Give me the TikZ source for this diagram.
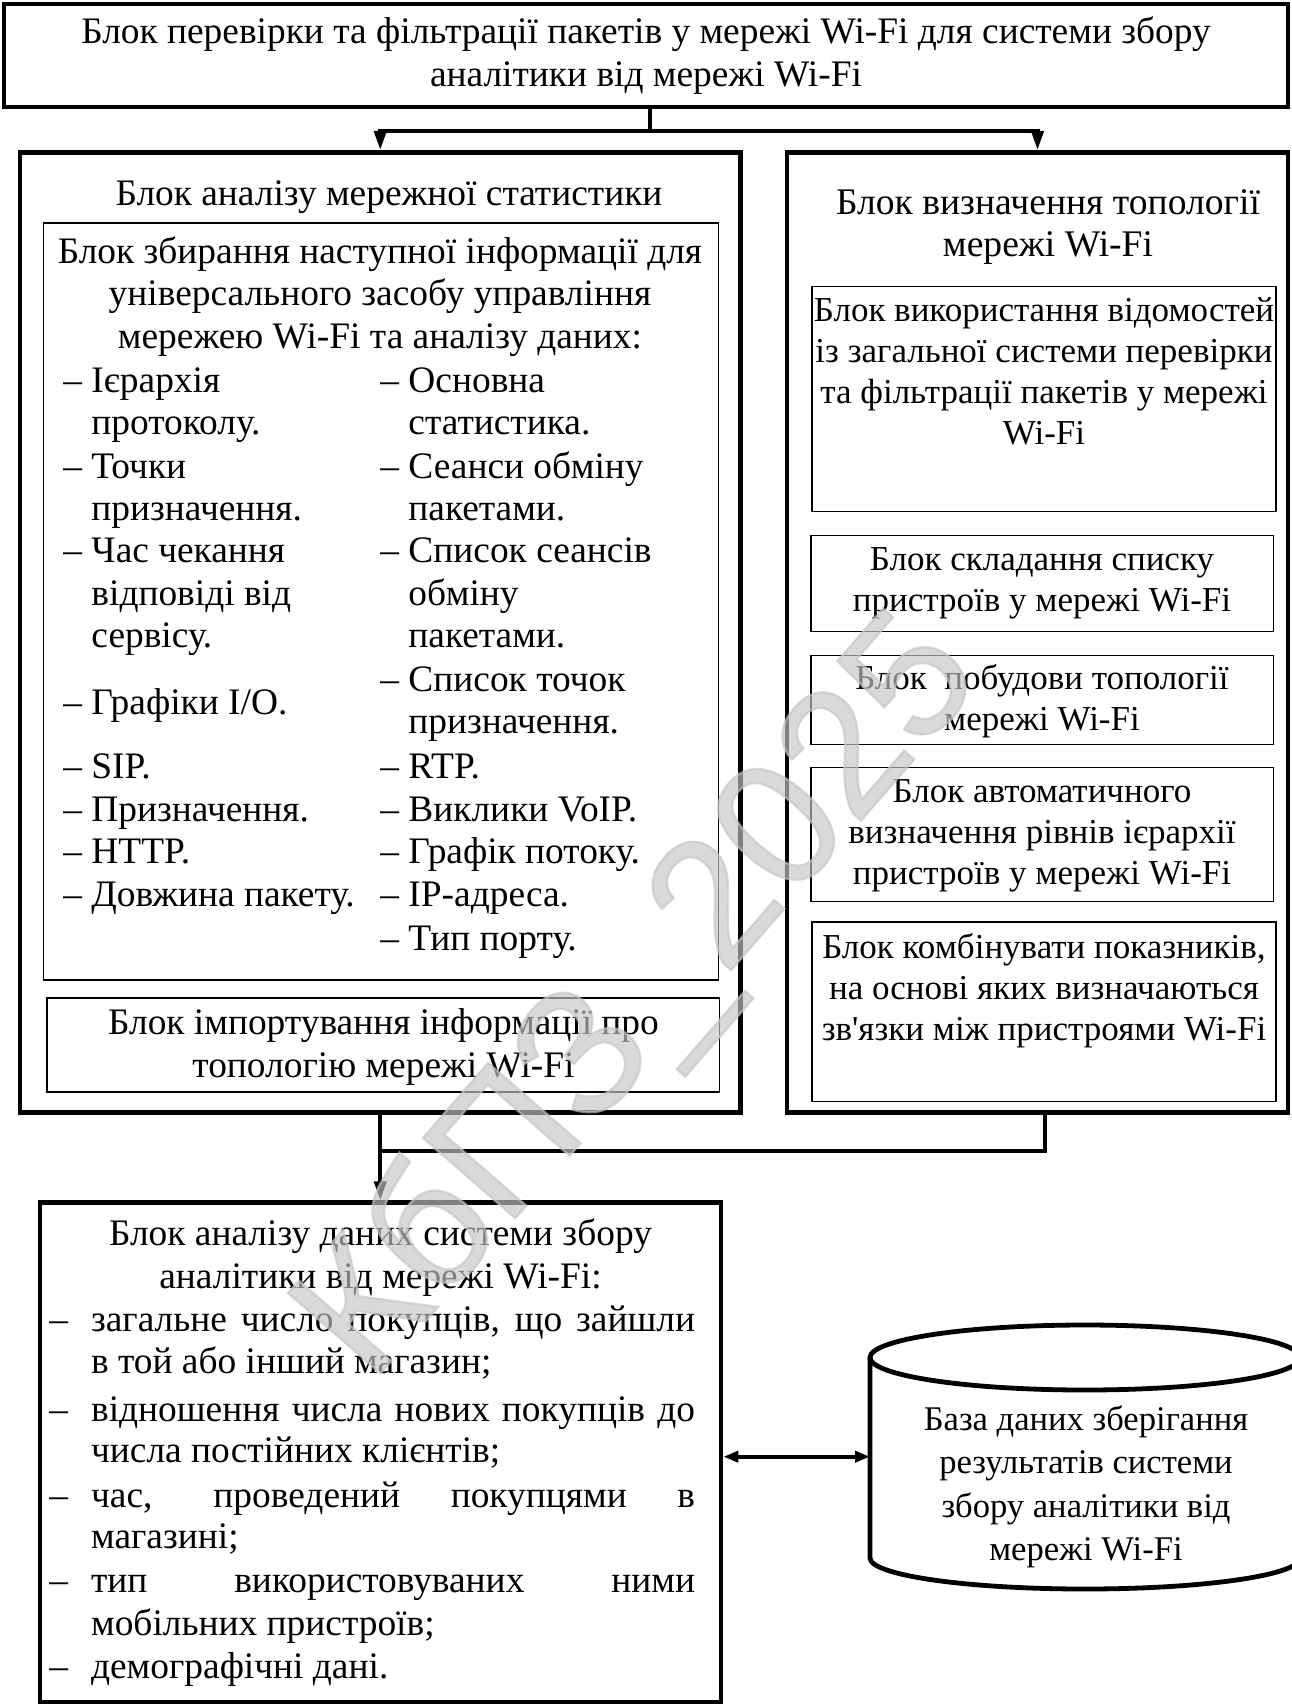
\documentclass[tikz,border=0pt]{standalone}
\usepackage{fontspec}
\setmainfont{Liberation Serif}[Ligatures=TeXOff]
\newfontfamily\wmfont{Liberation Sans}[FakeBold=1.3]
\usetikzlibrary{arrows.meta}
\newcommand\lfont{\fontsize{18.7}{21.25}\selectfont}
\newcommand\rtfont{\fontsize{18.8}{20.7}\selectfont}
\newcommand\rfont{\fontsize{17.5}{20.5}\selectfont}
\newcommand\topfont{\fontsize{18.7}{21.75}\selectfont}
\newcommand\cylfont{\fontsize{17.3}{21.65}\selectfont}
\newcommand\bfont{\fontsize{18.7}{21.4}\selectfont}
\newcommand\hang{\phantom{–~}}
\begin{document}
\begin{tikzpicture}[x=0.5pt,y=-0.5pt,
  thick box/.style={draw, line width=2.4pt, inner sep=0pt},
  thin box/.style={draw, line width=0.8pt, inner sep=0pt},
  conn/.style={line width=2pt},
  tip/.style={-{Triangle[length=9.5pt,width=6pt]}},
  dtip/.style={{Triangle[length=7.5pt,width=5.5pt]}-{Triangle[length=7.5pt,width=5.5pt]}},
  lt/.style={inner sep=0pt, font=\lfont, anchor=mid west},
  ctext/.style={inner sep=0pt, align=center}]
\fill[white] (0,0) rectangle (1291,1707);
\useasboundingbox (0,0) rectangle (1291,1707);

% boxes
\node[thick box, minimum width=642pt, minimum height=51.5pt] (top) at (646,55.5) {};
\node[thick box, minimum width=360.25pt, minimum height=480.05pt] (lbig) at (380.25,632.45) {};
\node[thin box, minimum width=337.45pt, minimum height=378.35pt] (in1) at (380.95,601.35) {};
\node[thin box, minimum width=336.35pt, minimum height=46.8pt] (in2) at (383.15,1045) {};
\node[thick box, minimum width=250.5pt, minimum height=480.05pt] (rbig) at (1037.5,632.45) {};
\node[thin box, minimum width=231.85pt, minimum height=112.65pt] (r1) at (1043.85,398.95) {};
\node[thin box, minimum width=231.25pt, minimum height=47.9pt] (r2) at (1042.25,583.4) {};
\node[thin box, minimum width=231.25pt, minimum height=44.6pt] (r3) at (1042.25,699.9) {};
\node[thin box, minimum width=231.25pt, minimum height=66.95pt] (r4) at (1042.25,834.35) {};
\node[thin box, minimum width=231.85pt, minimum height=89.8pt] (r5) at (1043.85,1011.8) {};
\node[thick box, minimum width=340.5pt, minimum height=249.6pt] (bot) at (380.5,1452.4) {};

% cylinder
\draw[line width=2.4pt] (1085,1357.5) ellipse [x radius=107.5pt, y radius=16.25pt];
\draw[line width=2.4pt] (870,1357.5) -- (870,1558) arc[start angle=180,end angle=360,x radius=107.5pt,y radius=15.5pt] -- (1300,1357.5);
\coordinate (cylw) at (870,1456.7);

% texts
\node[ctext, font=\topfont] (toptxt) at (646,55.5) {Блок перевірки та фільтрації пакетів у мережі Wi-Fi для системи збору\\аналітики від мережі Wi-Fi};
\node[ctext, font=\lfont] (ltitle) at (389,197.1) {Блок аналізу мережної статистики};
\node[ctext, font=\lfont] (i1head) at (380,296.6) {Блок збирання наступної інформації для\\універсального засобу управління\\мережею Wi-Fi та аналізу даних:};

\node[lt] (la1) at (63,387.5) {– Ієрархія};
\node[lt] (la2) at (63,429.9) {\hang протоколу.};
\node[lt] (la3) at (63,473.5) {– Точки};
\node[lt] (la4) at (63,515.9) {\hang призначення.};
\node[lt] (la5) at (63,558.4) {– Час чекання};
\node[lt] (la6) at (63,600.8) {\hang відповіді від};
\node[lt] (la7) at (63,643.3) {\hang сервісу.};
\node[lt] (la8) at (63,709.7) {– Графіки I/O.};
\node[lt] (la9) at (63,773.9) {– SIP.};
\node[lt] (la10) at (63,816.4) {– Призначення.};
\node[lt] (la11) at (63,858.8) {– HTTP.};
\node[lt] (la12) at (63,902.3) {– Довжина пакету.};

\node[lt] (lb1) at (380,387.5) {– Основна};
\node[lt] (lb2) at (380,429.9) {\hang статистика.};
\node[lt] (lb3) at (380,473.5) {– Сеанси обміну};
\node[lt] (lb4) at (380,515.9) {\hang пакетами.};
\node[lt] (lb5) at (380,558.4) {– Список сеансів};
\node[lt] (lb6) at (380,600.8) {\hang обміну};
\node[lt] (lb7) at (380,643.3) {\hang пакетами.};
\node[lt] (lb8) at (380,686.8) {– Список точок};
\node[lt] (lb9) at (380,729.3) {\hang призначення.};
\node[lt] (lb10) at (380,773.9) {– RTP.};
\node[lt] (lb11) at (380,816.4) {– Виклики VoIP.};
\node[lt] (lb12) at (380,858.8) {– Графік потоку.};
\node[lt] (lb13) at (380,902.3) {– IP-адреса.};
\node[lt] (lb14) at (380,945.9) {– Тип порту.};

\node[ctext, font=\lfont] (i2txt) at (383.5,1047.2) {Блок імпортування інформації про\\топологію мережі Wi-Fi};

\node[ctext, font=\rtfont] (rtitle) at (1048,226.9) {Блок визначення топології\\мережі Wi-Fi};
\node[ctext, font=\rfont] (r1txt) at (1044,371.2) {Блок використання відомостей\\із загальної системи перевірки\\та фільтрації пакетів у мережі\\Wi-Fi};
\node[ctext, font=\rfont] (r2txt) at (1042,583.5) {Блок складання списку\\пристроїв у мережі Wi-Fi};
\node[ctext, font=\rfont] (r3txt) at (1042,701.5) {Блок\ \ побудови топології\\мережі Wi-Fi};
\node[ctext, font=\rfont] (r4txt) at (1042,836) {Блок автоматичного\\визначення рівнів ієрархії\\пристроїв у мережі Wi-Fi};
\node[ctext, font=\rfont] (r5txt) at (1044,990.5) {Блок комбінувати показників,\\на основі яких визначаються\\зв'язки між пристроями Wi-Fi};

\node[ctext, font=\bfont] (bhead) at (380.5,1257.9) {Блок аналізу даних системи збору\\аналітики від мережі Wi-Fi:};
\node[lt] (bd1) at (49,1327.3) {–};
\node[lt] (bt1) at (90.7,1327.3) {\makebox[302pt][s]{загальне число покупців, що зайшли}};
\node[lt] (bt2) at (90.7,1369.3) {в той або інший магазин;};
\node[lt] (bd2) at (49,1417.3) {–};
\node[lt] (bt3) at (90.7,1417.3) {\makebox[302pt][s]{відношення числа нових покупців до}};
\node[lt] (bt4) at (90.7,1458.3) {числа постійних клієнтів;};
\node[lt] (bd3) at (49,1503.3) {–};
\node[lt] (bt5) at (90.7,1503.3) {\makebox[302pt][s]{час, проведений покупцями в}};
\node[lt] (bt6) at (90.7,1544.3) {магазині;};
\node[lt] (bd4) at (49,1588.3) {–};
\node[lt] (bt7) at (90.7,1588.3) {\makebox[302pt][s]{тип використовуваних ними}};
\node[lt] (bt8) at (90.7,1631.3) {мобільних пристроїв;};
\node[lt] (bd5) at (49,1674.3) {–};
\node[lt] (bt9) at (90.7,1674.3) {демографічні дані.};

\node[ctext, font=\cylfont] (cyltxt) at (1086,1486.7) {База даних зберігання\\результатів системи\\збору аналітики від\\мережі Wi-Fi};

% connectors
\coordinate (j1) at (650,130.6);
\draw[conn] (top.south -| j1) -- (j1);
\draw[conn,tip] (j1) -| (lbig.north);
\draw[conn,tip] (j1) -| (rbig.north);
\draw[conn,tip] (lbig.south) -- (lbig.south |- bot.north);
\coordinate (j2) at (1045,1151);
\draw[conn] (rbig.south -| j2) |- (lbig.south |- j2);
\draw[conn,dtip] (bot.east |- cylw) -- (cylw);

% watermark
\node[rotate=49, text=gray!45, opacity=0.65, inner sep=0pt, font=\wmfont\fontsize{89}{89}\selectfont] (wm) at (642,1000) {КбПЗ\_2025};
\end{tikzpicture}
\end{document}
